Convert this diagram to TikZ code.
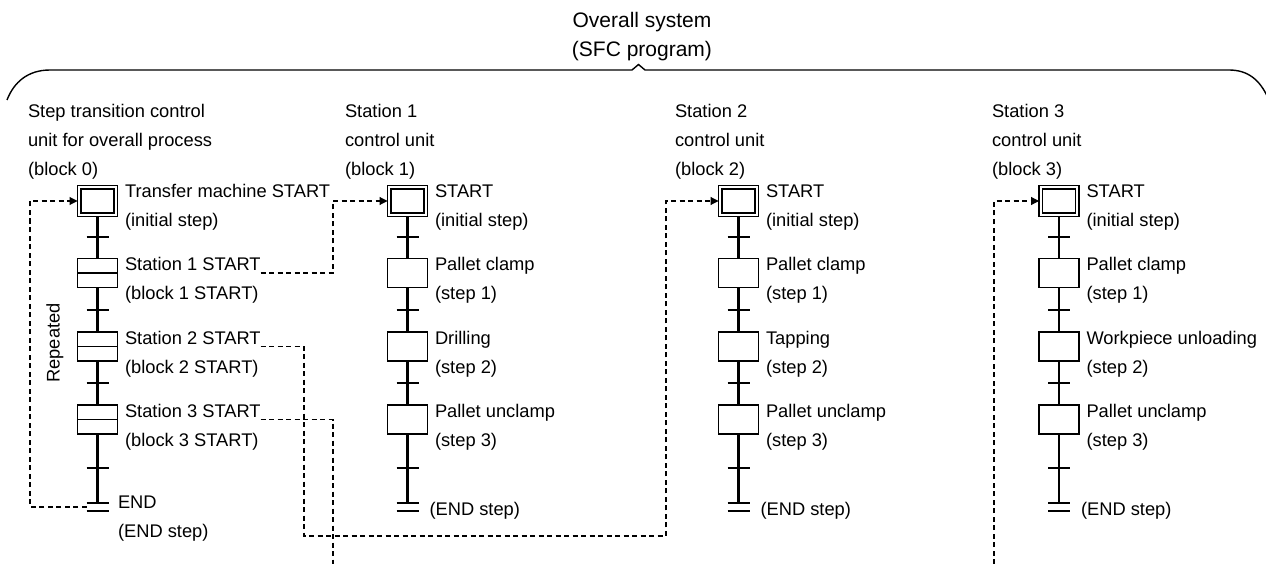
\documentclass[tikz,border=0pt]{standalone}
\usepackage{fontspec}
\setmainfont{Liberation Sans}
\usetikzlibrary{arrows.meta}
\tikzset{
  every node/.style={font=\fontsize{18.3}{22}\selectfont, inner sep=0pt, outer sep=0pt},
  lbl/.style={anchor=base west},
  ttl/.style={anchor=base, font=\fontsize{21}{25}\selectfont},
  initbox/.style={draw, line width=1.3pt, minimum width=40pt, minimum height=31pt},
  initinner/.style={draw, line width=1.3pt, minimum width=33pt, minimum height=24pt},
  stepbox/.style={draw, line width=1.3pt, minimum width=40pt, minimum height=29pt},
  flow/.style={line width=2.2pt},
  bar/.style={line width=2.4pt},
  dashconn/.style={line width=1.1pt, dash pattern=on 5pt off 3.5pt},
  arr/.style={dashconn, -{Triangle[length=8pt,width=8pt]}},
  brace/.style={line width=1.4pt}
}
% #1 prefix, #2 centre x
\newcommand\sfcskeleton[2]{%
  \node[initbox] (#1i) at (#2,201) {};
  \node[initinner] (#1ii) at (#2,201) {};
  \node[stepbox] (#1s1) at (#2,273) {};
  \node[stepbox] (#1s2) at (#2,346.5) {};
  \node[stepbox] (#1s3) at (#2,419.5) {};
  \coordinate (#1e) at (#2,503);
  \coordinate (#1f) at (#2,511);
  \draw[flow] (#1i.south) -- (#1s1.north) (#1s1.south) -- (#1s2.north)
              (#1s2.south) -- (#1s3.north) (#1s3.south) -- (#1e);
  \foreach \ty in {237,310,383,468} \draw[bar] ({#2-11},\ty) -- ({#2+11},\ty);
  \draw[bar] ([xshift=-11pt]#1e) -- ([xshift=11pt]#1e);
  \draw[bar] ([xshift=-11pt]#1f) -- ([xshift=11pt]#1f);
}
% #1 prefix, #2 centre x, #3 heading x, #4 station, #5 block, #6 step1, #7 step2, #8 step3
\newcommand\sfcstation[8]{%
  \sfcskeleton{#1}{#2}
  \node[lbl] (#1h1) at (#3,118) {#4};
  \node[lbl] (#1h2) at (#3,147) {control unit};
  \node[lbl] (#1h3) at (#3,176) {(block #5)};
  \node[lbl] (#1la) at ({#2+27.5},197) {START};
  \node[lbl] (#1lb) at ({#2+27.5},226) {(initial step)};
  \node[lbl] (#1l1a) at ({#2+27.5},270) {#6};
  \node[lbl] (#1l1b) at ({#2+27.5},299) {(step 1)};
  \node[lbl] (#1l2a) at ({#2+27.5},344) {#7};
  \node[lbl] (#1l2b) at ({#2+27.5},373) {(step 2)};
  \node[lbl] (#1l3a) at ({#2+27.5},417) {#8};
  \node[lbl] (#1l3b) at ({#2+27.5},446) {(step 3)};
  \node[lbl] (#1end) at ({#2+22},515) {(END step)};
}
\begin{document}
\begin{tikzpicture}[x=1pt,y=-1pt]
\useasboundingbox (0,0) rectangle (1266,564);

% title and brace
\node[ttl] (t1) at (642,27.5) {Overall system};
\node[ttl] (t2) at (642,57) {(SFC program)};
\draw[brace] (7,100) .. controls (14,82) and (28,70) .. (50,70) -- (632,70)
  -- (638.5,64.5) -- (645,70) -- (1229,70) .. controls (1248,70) and (1260,80) .. (1268,98);

% block 0
\sfcskeleton{a}{97.5}
\draw[line width=1.3pt] (as1.west) -- (as1.east);
\draw[line width=1.3pt] (as2.west) -- (as2.east);
\draw[line width=1.3pt] (as3.west) -- (as3.east);
\node[lbl] (ah1) at (28,118) {Step transition control};
\node[lbl] (ah2) at (28,147) {unit for overall process};
\node[lbl] (ah3) at (28,176) {(block 0)};
\node[lbl] (ala) at (125,197) {Transfer machine START};
\node[lbl] (alb) at (125,226) {(initial step)};
\node[lbl] (al1a) at (125,270) {Station 1 START};
\node[lbl] (al1b) at (125,299) {(block 1 START)};
\node[lbl] (al2a) at (125,344) {Station 2 START};
\node[lbl] (al2b) at (125,373) {(block 2 START)};
\node[lbl] (al3a) at (125,417) {Station 3 START};
\node[lbl] (al3b) at (125,446) {(block 3 START)};
\node[lbl] (aend) at (118,508) {END};
\node[lbl] (aend2) at (118,537) {(END step)};
\node[rotate=90] (rep) at (55,343) {Repeated};

% stations
\sfcstation{b}{407.5}{345}{Station 1}{1}{Pallet clamp}{Drilling}{Pallet unclamp}
\sfcstation{c}{738.5}{675}{Station 2}{2}{Pallet clamp}{Tapping}{Pallet unclamp}
\sfcstation{d}{1059}{992}{Station 3}{3}{Pallet clamp}{Workpiece unloading}{Pallet unclamp}

% dashed connectors
\coordinate (lp1) at (30,507);
\coordinate (lp2) at (30,201);
\draw[arr] ([xshift=-11pt,yshift=-4pt]ae) -- (lp1) -- (lp2) -- (ai.west);

\coordinate (j1) at (333,201);
\draw[arr] (al1a.base east |- as1.center) -| (j1) -- (bi.west);

\coordinate (j2a) at (304,536);
\coordinate (j2b) at (666,201);
\draw[arr] (al2a.base east |- as2.center) -| (j2a) -| (j2b) -- (ci.west);

\coordinate (j3) at (333,564);
\draw[dashconn] (al3a.base east |- as3.center) -| (j3);

\coordinate (j4) at (994,564);
\draw[arr] (j4) |- (di.west);
\end{tikzpicture}
\end{document}
